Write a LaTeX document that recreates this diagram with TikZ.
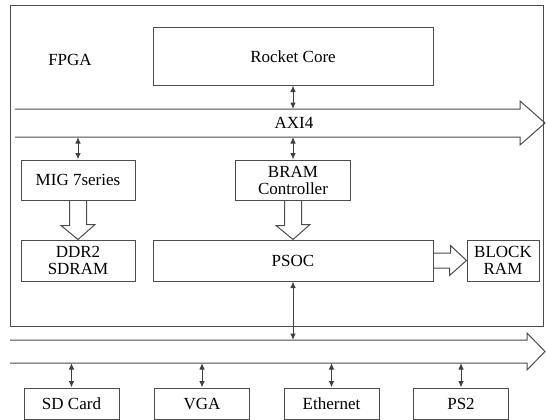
\documentclass[tikz,border=0pt]{standalone}
\usepackage{fontspec}
\setmainfont{Liberation Serif}
\usepackage{tikz}
\usetikzlibrary{arrows.meta}

\begin{document}
\begin{tikzpicture}[x = 1pt, y = -1pt]
        \tikzset{block/.style = {shape=rectangle, draw = black!70, line width = 1pt,
                inner sep = 1pt, align = center, font = \fontsize{17}{17}\selectfont}}
        \tikzset{label/.style = {font = \fontsize{17}{17}\selectfont}}
        \tikzset{edge/.style = {<->, > = {Latex[length=6.5pt,width=5.5pt]}, line width = 1pt, draw = black!75}}
        \tikzset{hollow/.style = {line width = 1pt, draw = black!70, line join = miter}}
        \useasboundingbox (0,0) rectangle (546,420);
        % fpga frame
        \draw[hollow] (10,6) rectangle (543,326);
        \node[label] (fpga) at (70,60) {FPGA};
        % buses
        \draw[hollow] (15,109) -- (520,109) -- (520,101) -- (545,123) -- (520,145) -- (520,137) -- (15,137);
        \node[label] (axi) at (294,123) {AXI4};
        \draw[hollow] (10,340) -- (527,340) -- (527,333) -- (545,351.5) -- (527,370) -- (527,363) -- (10,363);
        \coordinate (r0) at (293,109);
        \coordinate (a1) at (78,137);
        \coordinate (a2) at (293,137);
        \coordinate (b0) at (293,340);
        \coordinate (b1) at (71.5,363);
        \coordinate (b2) at (202,363);
        \coordinate (b3) at (331.5,363);
        \coordinate (b4) at (461,363);
        % blocks
        \node[block, minimum width = 280pt, minimum height = 57pt] (rocket) at (293,56.5) {Rocket Core};
        \node[block, minimum width = 114pt, minimum height = 40pt] (mig) at (78,180) {MIG 7series};
        \node[block, minimum width = 115pt, minimum height = 40pt] (bram) at (293,180) {BRAM\\Controller};
        \node[block, minimum width = 114pt, minimum height = 41pt] (ddr) at (78,260.5) {DDR2\\SDRAM};
        \node[block, minimum width = 280pt, minimum height = 41pt] (psoc) at (293,260.5) {PSOC};
        \node[block, minimum width = 72pt, minimum height = 41pt] (blockram) at (503,260.5) {BLOCK\\RAM};
        \node[block, minimum width = 95pt, minimum height = 31pt] (sd) at (71.5,403.5) {SD Card};
        \node[block, minimum width = 95pt, minimum height = 31pt] (vga) at (202,403.5) {VGA};
        \node[block, minimum width = 95pt, minimum height = 31pt] (eth) at (331.5,403.5) {Ethernet};
        \node[block, minimum width = 95pt, minimum height = 31pt] (ps2) at (461,403.5) {PS2};
        % edges
        \draw[edge] (rocket) to (r0);
        \draw[edge] (a1) to (mig);
        \draw[edge] (a2) to (bram);
        \draw[edge] (psoc) to (b0);
        \draw[edge] (b1) to (sd);
        \draw[edge] (b2) to (vga);
        \draw[edge] (b3) to (eth);
        \draw[edge] (b4) to (ps2);
        % wide arrows
        \draw[hollow] ([xshift=-8.5pt]mig.south) -- ++(0,25) -- ++(-8.5,0) -- (ddr.north)
                -- ++(17,-15) -- ++(-8.5,0) -- ([xshift=8.5pt]mig.south);
        \draw[hollow] ([xshift=-8.5pt]bram.south) -- ++(0,25) -- ++(-8.5,0) -- (psoc.north)
                -- ++(17,-15) -- ++(-8.5,0) -- ([xshift=8.5pt]bram.south);
        \draw[hollow] ([yshift=7.5pt]psoc.east) -- ++(17,0) -- ++(0,-7.5) -- (blockram.west)
                -- ++(-17,15) -- ++(0,-7.5) -- ([yshift=-7.5pt]psoc.east);
\end{tikzpicture}
\end{document}
